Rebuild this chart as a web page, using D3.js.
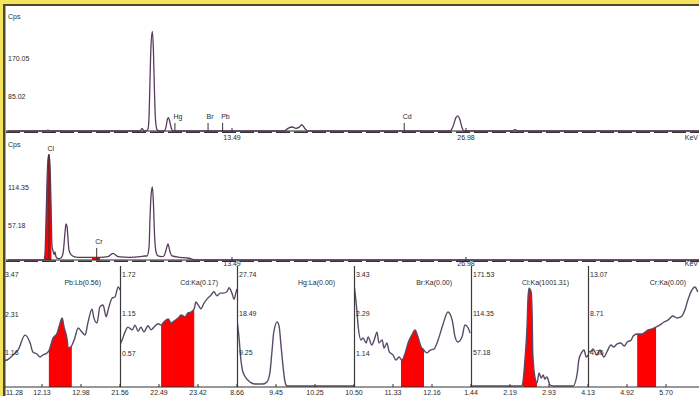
<!DOCTYPE html>
<html><head><meta charset="utf-8">
<script src="https://cdn.jsdelivr.net/npm/d3@7"></script>
<style>html,body{margin:0;padding:0;background:#fff;overflow:hidden}svg{display:block}</style>
</head><body><svg id="c" width="699" height="396"></svg>
<script>
// ---------- DATA ----------
// main spectra: [keV, cps]
const spectrumTop = [[0.58,0],[2.77,0],[2.88,2],[3.00,0],[8.19,0],[8.30,6],[8.42,0],[8.53,0],[8.65,5],[8.71,35],[8.76,110],[8.82,190],[8.90,223],[8.96,180],[9.02,90],[9.08,25],[9.17,3],[9.28,0],[9.57,0],[9.69,10],[9.77,27],[9.83,30],[9.92,18],[10.00,5],[10.09,0],[16.49,0],[16.72,6],[16.95,9],[17.18,6],[17.35,8],[17.52,14],[17.70,5],[17.87,0],[26.06,0],[26.23,10],[26.40,30],[26.52,34],[26.63,25],[26.75,8],[26.86,0],[29.63,0],[29.80,3],[29.98,0],[40.47,0]];
const spectrumMid = [[0.58,0],[2.65,0],[2.71,10],[2.77,60],[2.83,120],[2.88,150],[2.94,157],[3.00,140],[3.06,80],[3.11,22],[3.17,14],[3.23,8],[3.29,12],[3.34,5],[3.46,2],[3.63,3],[3.75,10],[3.86,40],[3.92,54],[3.98,50],[4.04,30],[4.09,15],[4.21,8],[4.38,5],[4.61,4],[5.02,4],[5.88,4],[6.34,5],[6.63,10],[6.92,5],[7.61,4],[8.19,5],[8.47,6],[8.59,6],[8.71,20],[8.76,60],[8.82,95],[8.90,109],[8.96,85],[9.02,40],[9.11,12],[9.22,6],[9.45,5],[9.57,6],[9.69,15],[9.80,24],[9.92,12],[10.03,6],[10.49,4],[10.95,3],[11.36,0],[40.47,0]];
const topAxisMax = 255.07, midAxisMax = 171.53;
const topYLabels = ["170.05","85.02"], midYLabels = ["114.35","57.18"];
const mainTickValues = [13.49, 26.98];
const mainTickLabels = ["13.49","26.98"];
const mainUnit = "KeV";
const topMarkerNames = ["Hg","Br","Pb","Cd"];
const topMarkerEnergies = [10.20, 12.11, 12.95, 23.42];
const topMarkerCps = [18,18,18,18];
const midMarkerNames = ["Cl","Cr"];
const midMarkerEnergies = [2.94, 5.69];
const midMarkerCps = [158, 18];
const midROIs = [[2.71,3.08],[5.42,5.88]];

// ROI sub panels
const subTitles = ["Pb:Lb(0.56)","Cd:Ka(0.17)","Hg:La(0.00)","Br:Ka(0.00)","Cl:Ka(1001.31)","Cr:Ka(0.00)"];
const subStarts = [11.28,21.56,8.66,10.50,1.44,4.13];
const subSteps = [0.85,0.93,0.795,0.83,0.745,0.785];
const subTickLabels = [["11.28","12.13","12.98"],["21.56","22.49","23.42"],["8.66","9.45","10.25"],["10.50","11.33","12.16"],["1.44","2.19","2.93"],["4.13","4.92","5.70"]];
const subYMax = [3.47,1.72,27.74,3.43,171.53,13.07];
const subYLabels = [["3.47","2.31","1.16"],["1.72","1.15","0.57"],["27.74","18.49","9.25"],["3.43","2.29","1.14"],["171.53","114.35","57.18"],["13.07","8.71","4.36"]];
const subROIs = [[12.28,12.78],[22.54,23.33],null,[11.50,11.99],[2.43,2.70],[5.12,5.50]];
const subPb = [[11.28,0.78],[11.37,0.80],[11.50,0.95],[11.61,1.10],[11.76,1.54],[11.87,1.31],[11.93,1.04],[12.02,0.98],[12.09,0.89],[12.15,0.95],[12.24,1.01],[12.28,1.07],[12.37,1.45],[12.46,1.60],[12.50,1.78],[12.57,2.05],[12.61,1.78],[12.68,1.39],[12.70,1.16],[12.76,1.19],[12.83,1.39],[12.92,1.75],[13.00,1.63],[13.07,1.54],[13.13,1.90],[13.22,2.31],[13.26,2.05],[13.33,1.90],[13.39,2.37],[13.46,2.43],[13.53,2.08],[13.57,2.28],[13.66,2.64],[13.72,2.67],[13.79,2.97],[13.83,2.88]];
const subCd = [[21.56,0.62],[21.61,0.69],[21.68,0.81],[21.75,0.88],[21.85,0.84],[21.92,0.91],[21.99,0.82],[22.06,0.88],[22.13,0.81],[22.23,0.90],[22.30,0.84],[22.37,0.88],[22.47,0.93],[22.54,0.91],[22.61,0.96],[22.71,1.00],[22.78,0.94],[22.85,0.97],[22.94,1.01],[23.02,1.06],[23.11,1.03],[23.18,1.09],[23.25,1.10],[23.33,1.15],[23.37,1.25],[23.42,1.21],[23.49,1.15],[23.56,1.23],[23.66,1.31],[23.73,1.35],[23.80,1.40],[23.87,1.34],[23.95,1.38],[24.02,1.38],[24.11,1.40],[24.16,1.46],[24.23,1.38],[24.28,1.29],[24.33,1.40],[24.35,1.44]];
const subHg = [[8.66,15.9],[8.70,11.86],[8.74,6.40],[8.78,3.56],[8.88,1.66],[9.03,0.71],[9.19,0.71],[9.27,1.19],[9.33,3.32],[9.37,8.06],[9.41,13.04],[9.48,15.41],[9.52,14.23],[9.56,9.48],[9.60,4.74],[9.64,1.19],[9.68,0.24],[10.0,0.24],[10.4,0.24],[11.05,0.24]];
const subBr = [[10.50,2.99],[10.52,2.79],[10.56,2.26],[10.59,1.76],[10.65,1.38],[10.69,1.44],[10.76,1.29],[10.80,1.47],[10.88,1.23],[10.93,1.38],[10.99,1.61],[11.03,1.29],[11.10,1.38],[11.14,1.14],[11.20,1.29],[11.25,1.03],[11.33,0.94],[11.39,0.79],[11.46,0.88],[11.52,0.79],[11.59,1.00],[11.65,1.29],[11.73,1.52],[11.80,1.67],[11.86,1.47],[11.93,1.17],[11.97,1.11],[12.05,1.00],[12.12,1.08],[12.20,1.11],[12.29,1.38],[12.39,1.82],[12.50,2.20],[12.59,1.96],[12.65,1.47],[12.71,1.32],[12.80,1.47],[12.86,1.82],[12.93,1.73],[12.97,1.58]];
const subCl = [[1.44,1.47],[2.41,1.47],[2.43,5.9],[2.47,39.6],[2.51,88],[2.53,132],[2.55,145],[2.59,139],[2.61,98],[2.62,50],[2.66,14.7],[2.70,5.9],[2.74,20.5],[2.78,13.2],[2.82,17.6],[2.85,11.7],[2.89,14.7],[2.95,2.9],[3.04,1.47],[3.39,1.47],[3.47,20.5],[3.50,39.6],[3.56,51.3],[3.60,54.2],[3.64,44],[3.68,46.9]];
const subCr = [[4.13,4.13],[4.17,3.91],[4.23,4.24],[4.31,3.57],[4.37,4.13],[4.45,3.35],[4.51,3.91],[4.59,4.69],[4.65,4.47],[4.71,4.80],[4.79,4.91],[4.86,4.58],[4.92,5.03],[5.00,5.25],[5.04,5.70],[5.12,5.92],[5.22,5.92],[5.28,6.14],[5.34,6.37],[5.42,6.48],[5.50,6.70],[5.58,6.93],[5.66,7.26],[5.74,7.48],[5.84,7.93],[5.92,7.71],[6.00,7.82],[6.08,8.60],[6.14,9.72],[6.22,10.83],[6.28,11.17],[6.34,10.61]];
const subSeries = [subPb, subCd, subHg, subBr, subCl, subCr];

// ---------- DRAW ----------
const svg = d3.select("#c");
const FONT = "'Liberation Sans', Arial, sans-serif";
const TXT = "#2a2a2a";
const LINE = "#5a3a5e";
svg.append("rect").attr("width",699).attr("height",396).attr("fill","#fff");

function interp(data, e){
  for(let i=1;i<data.length;i++){
    if(data[i][0]>=e){const a=data[i-1],b=data[i];const t=(e-a[0])/(b[0]-a[0]||1);return a[1]+t*(b[1]-a[1]);}
  }
  return data[data.length-1][1];
}
function roiPoints(data, r){
  const pts=[[r[0],interp(data,r[0])]];
  data.forEach(d=>{if(d[0]>r[0]&&d[0]<r[1])pts.push(d);});
  pts.push([r[1],interp(data,r[1])]);
  return pts;
}
function txt(g,x,y,s,anchor){
  return g.append("text").attr("x",x).attr("y",y).attr("dy","0.35em").attr("text-anchor",anchor||"start")
    .attr("font-family",FONT).attr("font-size",7).attr("fill",TXT).text(s);
}

const x = d3.scaleLinear().domain([0,40.47]).range([-2,700]);

function mainPanel(data, axisMax, y0, yTop, yLabels, mNames, mE, mCps, rois, tickY){
  const g = svg.append("g");
  const y = d3.scaleLinear().domain([0,axisMax]).range([y0,yTop]);
  (rois||[]).forEach(r=>{
    g.append("path").datum(roiPoints(data,r))
      .attr("d",d3.area().x(d=>x(d[0])).y0(y(0)).y1(d=>y(d[1])).curve(d3.curveMonotoneX))
      .attr("fill","#ff0000");
  });
  g.append("line").attr("x1",6).attr("x2",699).attr("y1",y(0)).attr("y2",y(0)).attr("stroke","#222").attr("stroke-width",1);
  g.append("line").attr("x1",6).attr("x2",699).attr("y1",y(0)+1.3).attr("y2",y(0)+1.3).attr("stroke","#333").attr("stroke-width",1.4).attr("stroke-dasharray","14,4");
  g.append("path").datum(data)
    .attr("d",d3.line().x(d=>x(d[0])).y(d=>y(d[1])).curve(d3.curveMonotoneX))
    .attr("fill","none").attr("stroke",LINE).attr("stroke-width",1.3);
  mNames.forEach((n,i)=>{
    g.append("line").attr("x1",x(mE[i])).attr("x2",x(mE[i])).attr("y1",y(0)).attr("y2",y(mCps[i])).attr("stroke","#333").attr("stroke-width",1);
    txt(g,x(mE[i])-1.5,y(mCps[i])-6,n);
  });
  txt(g,8,y(axisMax),"Cps");
  yLabels.forEach(s=>txt(g,8,y(parseFloat(s))+4,s));
  mainTickValues.forEach((v,i)=>{
    g.append("line").attr("x1",x(v)).attr("x2",x(v)).attr("y1",y(0)-3).attr("y2",y(0)+1).attr("stroke","#333");
    txt(g,x(v),tickY,mainTickLabels[i],"middle");
  });
  txt(g,698,tickY,mainUnit,"end");
}
mainPanel(spectrumTop, topAxisMax, 131, 17, topYLabels, topMarkerNames, topMarkerEnergies, topMarkerCps, [], 138);
mainPanel(spectrumMid, midAxisMax, 260, 145, midYLabels, midMarkerNames, midMarkerEnergies, midMarkerCps, midROIs, 264);

// sub panels
const SUBW = 117, SUBY0 = 387, SUBYTOP = 270;
const defs = svg.append("defs");
subTitles.forEach((title,i)=>{
  const L = 3 + i*SUBW;
  const start = subStarts[i], step = subSteps[i];
  const xs = d3.scaleLinear().domain([start, start+3*step]).range([L, L+SUBW]);
  const ys = d3.scaleLinear().domain([0, subYMax[i]]).range([SUBY0, SUBYTOP]);
  defs.append("clipPath").attr("id","cp"+i).append("rect").attr("x",L).attr("y",262).attr("width",SUBW).attr("height",128);
  const g = svg.append("g");
  const gc = g.append("g").attr("clip-path","url(#cp"+i+")");
  const data = subSeries[i];
  if(subROIs[i]){
    gc.append("path").datum(roiPoints(data,subROIs[i]))
      .attr("d",d3.area().x(d=>xs(d[0])).y0(ys(0)).y1(d=>ys(d[1])).curve(d3.curveMonotoneX))
      .attr("fill","#ff0000");
  }
  gc.append("path").datum(data)
    .attr("d",d3.line().x(d=>xs(d[0])).y(d=>ys(d[1])).curve(d3.curveMonotoneX))
    .attr("fill","none").attr("stroke","#594a68").attr("stroke-width",1.4);
  g.append("line").attr("x1",L+0.5).attr("x2",L+0.5).attr("y1",266).attr("y2",SUBY0).attr("stroke","#3a3a3a").attr("stroke-width",1.2);
  subYLabels[i].forEach(s=>txt(g,L+2,ys(parseFloat(s))+5,s));
  txt(g,L+98,283,title,"end");
  subTickLabels[i].forEach((s,k)=>{
    const v = start + k*step;
    g.append("line").attr("x1",xs(v)).attr("x2",xs(v)).attr("y1",SUBY0-3).attr("y2",SUBY0).attr("stroke","#333");
    if(i===0 && k===0) txt(g,6,393,s,"start");
    else txt(g,xs(v),393,s,"middle");
  });
});
svg.append("line").attr("x1",0).attr("x2",699).attr("y1",SUBY0).attr("y2",SUBY0).attr("stroke","#333").attr("stroke-width",1.2);

// frame
svg.append("rect").attr("x",0).attr("y",0).attr("width",699).attr("height",4).attr("fill","#f5e35b");
svg.append("rect").attr("x",0).attr("y",0).attr("width",3).attr("height",396).attr("fill","#f5e35b");
svg.append("rect").attr("x",3).attr("y",4).attr("width",696).attr("height",2).attr("fill","#4e4a30");
svg.append("rect").attr("x",3).attr("y",4).attr("width",2.5).attr("height",392).attr("fill","#4e4a30");
</script></body></html>
